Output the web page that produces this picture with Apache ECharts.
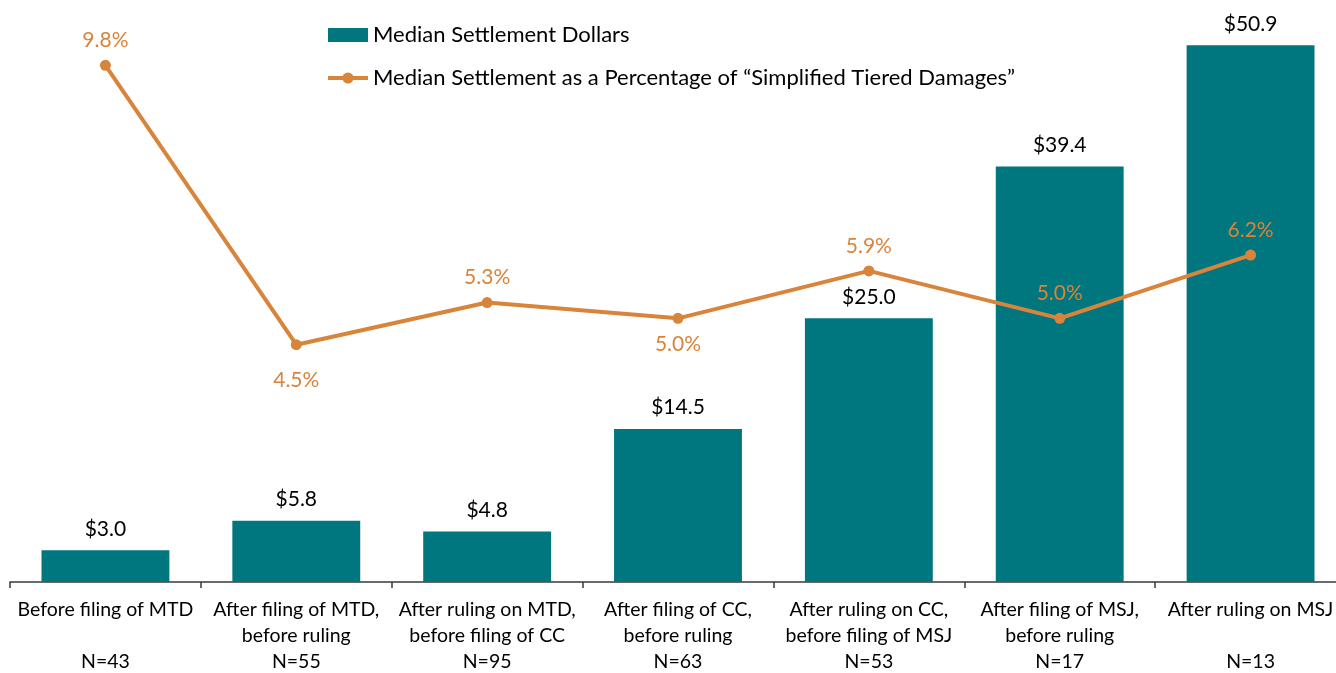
<!DOCTYPE html>
<html>
	<head>
		<meta charset="UTF-8">
		<title></title>
		<script src="https://cdn.jsdelivr.net/npm/echarts@6/dist/echarts.min.js" type="text/javascript" charset="utf-8"></script>
	</head>
	<body style="height: 100%; margin: 0">
		<div id="container" style="width: 1336px; height: 673px"></div>
		<script type="text/javascript">
			var stages = [
			    'Before filing of MTD\n\nN=43',
			    'After filing of MTD,\nbefore ruling\nN=55',
			    'After ruling on MTD,\nbefore filing of CC\nN=95',
			    'After filing of CC,\nbefore ruling\nN=63',
			    'After ruling on CC,\nbefore filing of MSJ\nN=53',
			    'After filing of MSJ,\nbefore ruling\nN=17',
			    'After ruling on MSJ\n\nN=13'
			];
			var dollars = [3.0, 5.8, 4.8, 14.5, 25.0, 39.4, 50.9];
			var percents = [9.8, 4.5, 5.3, 5.0, 5.9, 5.0, 6.2];
			// label above or below each point
			var pctLabelPos = ['top', 'bottom', 'top', 'bottom', 'top', 'top', 'top'];

			var teal = '#00767E';
			var orange = '#D8843A';
			var font = 'Lato';

			var dom = document.getElementById("container");
			var myChart = echarts.init(dom);

			var lineData = percents.map(function (v, i) {
			    return {
			        value: v,
			        label: {
			            position: pctLabelPos[i],
			            distance: pctLabelPos[i] === 'bottom' ? (i === 1 ? 20 : 10) : 9
			        }
			    };
			});

			var option = {
			    animation: false,
			    textStyle: { fontFamily: font },
			    legend: {
			        orient: 'vertical',
			        left: 321,
			        top: 19,
			        itemWidth: 40,
			        itemHeight: 14,
			        itemGap: 21,
			        textStyle: { fontSize: 22, color: '#000', fontFamily: font },
			        data: [
			            { name: 'Median Settlement Dollars', icon: 'rect' },
			            {
			                name: 'Median Settlement as a Percentage of \u201cSimplified Tiered Damages\u201d',
			                lineStyle: { width: 4 }
			            }
			        ]
			    },
			    grid: {
			        left: 10,
			        width: 1336,
			        top: 2,
			        bottom: 91,
			        outerBoundsMode: 'none'
			    },
			    xAxis: {
			        type: 'category',
			        data: stages,
			        axisLine: { lineStyle: { color: '#3a3a3a', width: 1.5 } },
			        axisTick: { show: true, length: 6, lineStyle: { color: '#3a3a3a', width: 1.5 } },
			        axisLabel: {
			            interval: 0,
			            color: '#000',
			            fontSize: 19.5,
			            lineHeight: 26,
			            margin: 15,
			            fontFamily: font
			        }
			    },
			    yAxis: [
			        { type: 'value', min: 0, max: 55, show: false, splitLine: { show: false } },
			        { type: 'value', min: 0, max: 11, show: false, splitLine: { show: false } }
			    ],
			    series: [
			        {
			            name: 'Median Settlement Dollars',
			            type: 'bar',
			            data: dollars,
			            barCategoryGap: '33%',
			            itemStyle: { color: teal },
			            label: {
			                show: true,
			                position: 'top',
			                distance: 11,
			                color: '#000',
			                fontSize: 21,
			                fontFamily: font,
			                formatter: function (p) { return '$' + p.value.toFixed(1); }
			            }
			        },
			        {
			            name: 'Median Settlement as a Percentage of \u201cSimplified Tiered Damages\u201d',
			            type: 'line',
			            yAxisIndex: 1,
			            data: lineData,
			            symbol: 'circle',
			            symbolSize: 11,
			            lineStyle: { color: orange, width: 4 },
			            itemStyle: { color: orange },
			            label: {
			                show: true,
			                color: orange,
			                fontSize: 21,
			                fontFamily: font,
			                formatter: function (p) { return p.value.toFixed(1) + '%'; }
			            }
			        }
			    ]
			};

			myChart.setOption(option);
		</script>
	</body>
</html>
